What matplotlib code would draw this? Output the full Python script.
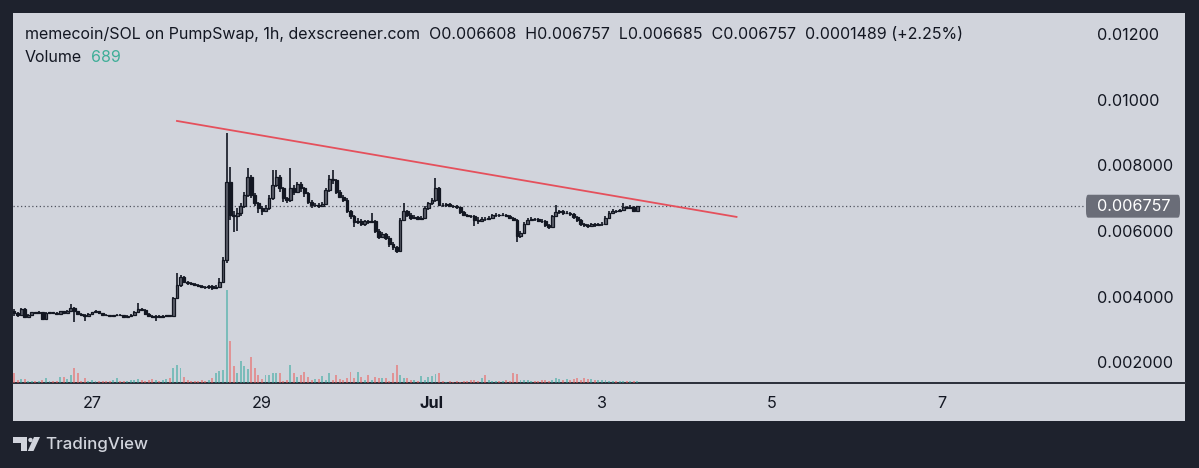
import numpy as np
import pandas as pd
import matplotlib
matplotlib.use('Agg')
import matplotlib.pyplot as plt
import matplotlib.dates as mdates
from matplotlib.patches import Rectangle, Polygon, Circle, FancyBboxPatch
from matplotlib.transforms import blended_transform_factory

plt.rcParams['font.family'] = ['Inter', 'DejaVu Sans']

# 1h candles, first bar at start_time, prices in units of 1e-3 SOL
start_time = '2025-06-26 02:00'
first_open = 3.55
closes = [
    3.50, 3.42, 3.62, 3.38, 3.45, 3.52, 3.50, 3.52, 3.30, 3.50,
    3.52, 3.50, 3.48, 3.55, 3.50, 3.56, 3.65, 3.55, 3.48, 3.45,
    3.40, 3.47, 3.52, 3.55, 3.50, 3.44, 3.42, 3.40, 3.42, 3.45,
    3.42, 3.38, 3.40, 3.45, 3.52, 3.62, 3.60, 3.48, 3.40, 3.38,
    3.40, 3.38, 3.40, 3.42, 3.40, 3.95, 4.35, 4.60, 4.45, 4.40,
    4.38, 4.35, 4.33, 4.30, 4.28, 4.32, 4.25, 4.30, 4.45, 5.10,
    7.50, 6.50, 6.45, 6.55, 6.75, 7.10, 7.65, 7.10, 6.85, 6.70,
    6.62, 6.70, 7.00, 7.40, 7.65, 7.30, 7.00, 6.95, 7.30, 7.20,
    7.45, 7.30, 7.15, 6.90, 6.78, 6.80, 6.76, 6.82, 7.25, 7.60,
    7.55, 7.20, 7.05, 6.95, 6.60, 6.45, 6.28, 6.32, 6.20, 6.30,
    6.28, 6.32, 6.00, 5.82, 5.90, 5.80, 5.60, 5.50, 5.40, 6.35,
    6.60, 6.50, 6.40, 6.42, 6.38, 6.40, 6.70, 6.85, 6.95, 7.30,
    6.80, 6.78, 6.82, 6.76, 6.75, 6.72, 6.58, 6.50, 6.47, 6.45,
    6.35, 6.30, 6.38, 6.36, 6.40, 6.48, 6.50, 6.48, 6.50, 6.47,
    6.40, 6.35, 5.85, 5.95, 6.22, 6.35, 6.38, 6.36, 6.32, 6.30,
    6.18, 6.12, 6.45, 6.58, 6.60, 6.55, 6.56, 6.52, 6.42, 6.35,
    6.20, 6.18, 6.15, 6.20, 6.18, 6.20, 6.22, 6.40, 6.55, 6.62,
    6.60, 6.64, 6.72, 6.70, 6.73, 6.608, 6.757,
]
highs = [
    3.62, 3.52, 3.65, 3.64, 3.48, 3.54, 3.54, 3.55, 3.54, 3.52,
    3.54, 3.53, 3.52, 3.57, 3.56, 3.60, 3.76, 3.67, 3.57, 3.50,
    3.47, 3.49, 3.54, 3.58, 3.56, 3.51, 3.46, 3.44, 3.44, 3.47,
    3.46, 3.44, 3.42, 3.48, 3.55, 3.79, 3.65, 3.61, 3.50, 3.42,
    3.42, 3.42, 3.42, 3.45, 3.44, 3.98, 4.72, 4.66, 4.62, 4.48,
    4.43, 4.40, 4.38, 4.36, 4.33, 4.35, 4.34, 4.34, 4.55, 5.20,
    8.99, 7.95, 6.62, 6.70, 6.85, 7.20, 7.92, 7.70, 7.15, 6.90,
    6.75, 6.78, 7.10, 7.86, 7.86, 7.70, 7.35, 7.05, 7.92, 7.40,
    7.50, 7.50, 7.35, 7.18, 6.95, 6.85, 6.84, 6.88, 7.30, 7.72,
    7.86, 7.58, 7.25, 7.10, 7.00, 6.65, 6.50, 6.40, 6.36, 6.35,
    6.34, 6.55, 6.35, 6.05, 5.97, 5.95, 5.85, 5.65, 5.55, 6.40,
    6.85, 6.65, 6.55, 6.48, 6.46, 6.45, 6.75, 6.90, 7.00, 7.62,
    7.35, 6.84, 6.86, 6.84, 6.80, 6.78, 6.74, 6.62, 6.53, 6.50,
    6.48, 6.42, 6.42, 6.42, 6.45, 6.52, 6.54, 6.53, 6.54, 6.53,
    6.50, 6.44, 6.38, 6.00, 6.28, 6.40, 6.42, 6.41, 6.40, 6.36,
    6.33, 6.22, 6.50, 6.80, 6.65, 6.63, 6.60, 6.59, 6.55, 6.45,
    6.38, 6.24, 6.22, 6.25, 6.24, 6.25, 6.27, 6.45, 6.60, 6.66,
    6.65, 6.68, 6.85, 6.76, 6.78, 6.75, 6.757,
]
lows = [
    3.40, 3.38, 3.40, 3.34, 3.36, 3.44, 3.48, 3.49, 3.28, 3.29,
    3.48, 3.47, 3.46, 3.47, 3.48, 3.49, 3.54, 3.22, 3.45, 3.42,
    3.24, 3.39, 3.46, 3.50, 3.48, 3.42, 3.40, 3.38, 3.38, 3.40,
    3.40, 3.35, 3.36, 3.38, 3.44, 3.50, 3.56, 3.45, 3.37, 3.34,
    3.25, 3.36, 3.36, 3.38, 3.37, 3.38, 3.92, 4.30, 4.40, 4.36,
    4.34, 4.31, 4.29, 4.26, 4.22, 4.24, 4.20, 4.22, 4.28, 4.42,
    5.02, 6.35, 5.97, 6.00, 6.45, 6.70, 7.05, 7.00, 6.75, 6.55,
    6.50, 6.58, 6.65, 6.95, 7.35, 7.20, 6.90, 6.85, 6.90, 7.10,
    7.15, 7.20, 7.05, 6.82, 6.70, 6.72, 6.70, 6.72, 6.78, 7.20,
    7.45, 7.12, 7.00, 6.88, 6.55, 6.38, 6.12, 6.22, 6.15, 6.16,
    6.22, 6.24, 5.95, 5.75, 5.78, 5.72, 5.52, 5.42, 5.33, 5.36,
    6.30, 6.42, 6.35, 6.36, 6.33, 6.34, 6.38, 6.65, 6.80, 6.90,
    6.75, 6.72, 6.74, 6.72, 6.70, 6.66, 6.52, 6.45, 6.42, 6.40,
    6.15, 6.22, 6.26, 6.30, 6.33, 6.38, 6.44, 6.44, 6.45, 6.42,
    6.36, 6.30, 5.66, 5.78, 5.92, 6.18, 6.32, 6.31, 6.27, 6.25,
    6.12, 6.05, 6.10, 6.42, 6.52, 6.50, 6.51, 6.47, 6.36, 6.28,
    6.14, 6.12, 6.09, 6.12, 6.13, 6.14, 6.16, 6.20, 6.37, 6.52,
    6.56, 6.57, 6.62, 6.66, 6.66, 6.58, 6.60,
]
volumes = [
    3400, 1020, 1360, 1360, 680, 680, 680, 680, 1020, 1700,
    680, 680, 680, 2040, 2040, 1360, 2720, 5100, 3400, 680,
    1700, 680, 1020, 680, 680, 680, 680, 680, 1020, 1700,
    680, 680, 680, 1020, 1020, 1360, 1020, 680, 1020, 1360,
    1020, 680, 1020, 1360, 1700, 5100, 6120, 5100, 2040, 1020,
    680, 680, 680, 1020, 680, 1020, 1700, 3400, 4080, 4420,
    31620, 14280, 5780, 3400, 7480, 5780, 4760, 8840, 5100, 2720,
    1360, 2720, 2720, 3400, 3400, 3400, 680, 1020, 6120, 3400,
    2040, 2720, 3740, 2040, 1020, 1360, 1360, 2380, 1020, 3400,
    1020, 2720, 1360, 1020, 1700, 3740, 1700, 3740, 2040, 1020,
    2720, 1020, 2040, 1700, 1700, 1700, 680, 3400, 6120, 2720,
    1700, 1700, 1020, 1020, 680, 2380, 1020, 2040, 2380, 3060,
    3400, 680, 340, 680, 340, 680, 340, 680, 680, 1020,
    1020, 680, 1700, 2720, 1020, 680, 680, 680, 680, 1020,
    680, 3400, 3060, 1020, 1020, 1020, 680, 680, 680, 1020,
    1020, 680, 1020, 1700, 1360, 1020, 1360, 1020, 1360, 1700,
    1020, 1700, 1360, 1360, 1020, 1020, 1020, 1020, 680, 680,
    680, 680, 680, 680, 680, 680, 689,
]

# user drawn trend line (time, price in 1e-3)
trend_times = ['2025-06-28 00:00', '2025-07-04 14:00']
trend_prices = [9.36, 6.43]

price_ticks = [0.002, 0.004, 0.006, 0.008, 0.010, 0.012]
price_tick_labels = ['0.002000', '0.004000', '0.006000', '0.008000', '0.01000', '0.01200']
date_ticks = ['2025-06-27', '2025-06-29', '2025-07-01', '2025-07-03', '2025-07-05', '2025-07-07']
date_tick_labels = ['27', '29', 'Jul', '3', '5', '7']

header = ('memecoin/SOL on PumpSwap, 1h, dexscreener.com  O0.006608  H0.006757  '
          'L0.006685  C0.006757  0.0001489 (+2.25%)')
volume_label = '689'
last_price_label = '0.006757'

# colours
DARK_BG = '#1e222d'
PANEL = '#d1d4dc'
INK = '#131722'
UP_BODY = '#5d606b'
VOL_UP = '#26a69a'
VOL_DOWN = '#ef5350'
TREND = '#e5505c'

W, H = 1199, 468
FS = 11.7
FS_HEAD = 11.5


def box(x0, y0, x1, y1):
    # pixel box (top-left origin) -> figure fraction rect
    return [x0 / W, 1 - y1 / H, (x1 - x0) / W, (y1 - y0) / H]


fig = plt.figure(figsize=(W / 100, H / 100), dpi=100, facecolor=DARK_BG)

# background panel, axis line and logo in pixel space
bg = fig.add_axes([0, 0, 1, 1], zorder=0)
bg.set_xlim(0, W)
bg.set_ylim(H, 0)
bg.axis('off')
bg.add_patch(Rectangle((13, 13), 1172, 408, facecolor=PANEL, edgecolor='none'))
bg.plot([13, 1185], [383, 383], color='#2a2e39', lw=1.4)
bg.add_patch(Polygon([(13, 437), (27, 437), (27, 451), (21, 451), (21, 442.5), (13, 442.5)],
                     closed=True, facecolor=PANEL, edgecolor='none'))
bg.add_patch(Circle((30.5, 440), 2.2, facecolor=PANEL, edgecolor='none'))
bg.add_patch(Polygon([(34, 437), (40, 437), (33.5, 451), (27.8, 451)],
                     closed=True, facecolor=PANEL, edgecolor='none'))
bg.text(45, 444, 'TradingView', color=PANEL, fontsize=12.2, fontweight='medium',
        va='center', ha='left')

# data
times = pd.date_range(start_time, periods=len(closes), freq='h')
t = mdates.date2num(times)
c = np.array(closes) * 1e-3
o = np.array([first_open] + closes[:-1]) * 1e-3
hi = np.array(highs) * 1e-3
lo = np.array(lows) * 1e-3
up = c >= o

# volume pane
vax = fig.add_axes(box(13, 13, 1085, 383), zorder=1)
vax.set_facecolor('none')
vax.bar(t, volumes, width=0.55 / 24, color=np.where(up, VOL_UP, VOL_DOWN), alpha=0.5,
        linewidth=0)
vax.set_ylim(0, max(volumes) * 370 / 93)
vax.axis('off')

# price pane
ax = fig.add_axes(box(13, 13, 1085, 383), zorder=2, sharex=vax)
ax.set_facecolor('none')
ax.vlines(t, lo, hi, color=INK, lw=1.2, zorder=2)
ax.bar(t, np.maximum(np.abs(c - o), 1e-6), bottom=np.minimum(o, c), width=0.8 / 24,
       color=np.where(up, UP_BODY, INK), edgecolor=INK, linewidth=0.9, zorder=3)

ax.plot(mdates.date2num(pd.to_datetime(trend_times)), np.array(trend_prices) * 1e-3,
        color=TREND, lw=1.3, zorder=4)
ax.axhline(c[-1], color='#50535e', lw=0.9, ls=(0, (1, 2)), zorder=1)

ax.set_xlim(mdates.date2num(pd.Timestamp('2025-06-26 01:42')),
            mdates.date2num(pd.Timestamp('2025-07-08 16:24')))
ax.set_ylim(0.001359, 0.012656)

ax.yaxis.tick_right()
ax.set_yticks(price_ticks)
ax.set_yticklabels(price_tick_labels)
ax.tick_params(axis='y', length=0, pad=8.6, labelsize=FS, labelcolor=INK)
ax.set_xticks(mdates.date2num(pd.to_datetime(date_ticks)))
ax.set_xticklabels(date_tick_labels)
ax.tick_params(axis='x', length=0, pad=9, labelsize=FS, labelcolor=INK)
ax.get_xticklabels()[2].set_fontweight('bold')
for s in ax.spines.values():
    s.set_visible(False)

# last price tag
tr = blended_transform_factory(ax.transAxes, ax.transData)
ax.add_patch(FancyBboxPatch((1073 / 1072, c[-1] - 0.00035), 94 / 1072, 0.0007,
                            boxstyle='round,pad=0,rounding_size=0.002', mutation_aspect=0.1,
                            transform=tr, clip_on=False, facecolor='#6a6d78',
                            edgecolor='none', zorder=5))
ax.text((1097 - 13) / 1072, c[-1], last_price_label, transform=tr, color='white',
        fontsize=FS, va='center', ha='left', zorder=6)

# legend lines
fig.text(25 / W, 1 - 34 / H, header, color=INK, fontsize=FS_HEAD, va='center', ha='left')
fig.text(25 / W, 1 - 58 / H, 'Volume', color=INK, fontsize=FS_HEAD, va='center', ha='left')
fig.text(91 / W, 1 - 58 / H, volume_label, color='#3fae98', fontsize=FS_HEAD, va='center',
         ha='left')

fig.savefig('out.png', dpi=100, facecolor=fig.get_facecolor())
